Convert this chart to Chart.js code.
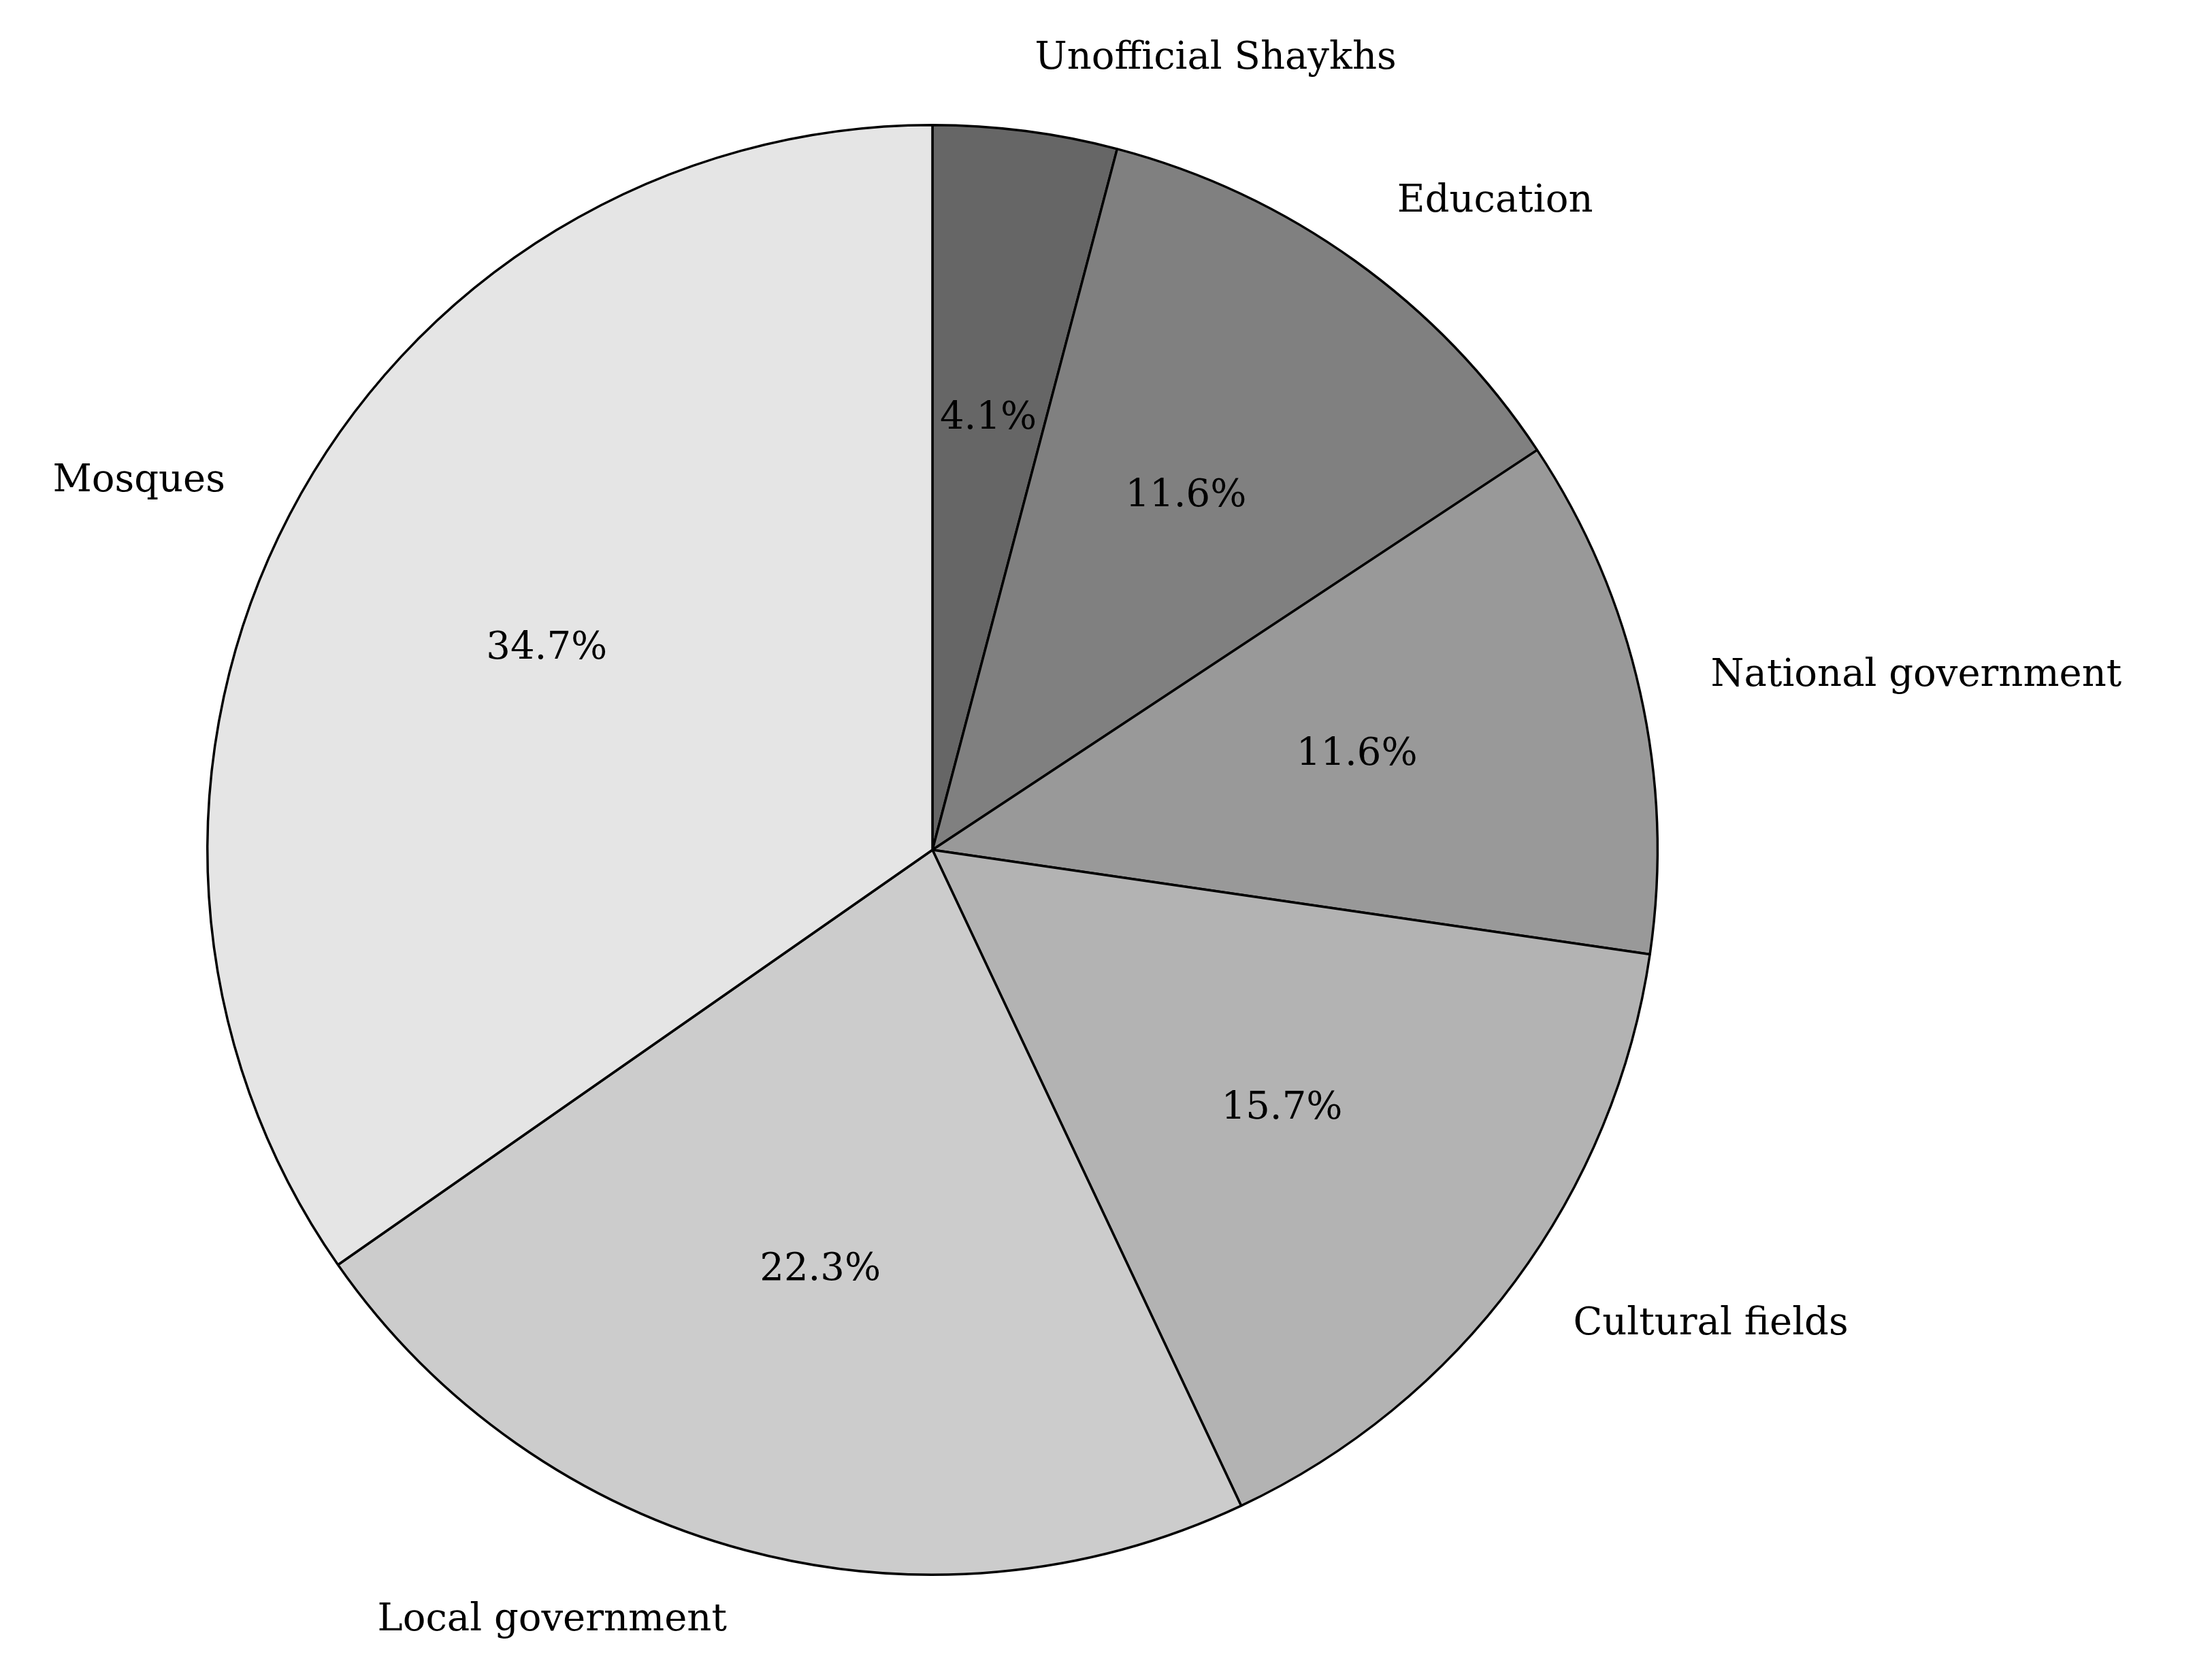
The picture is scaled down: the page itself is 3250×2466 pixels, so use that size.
<!DOCTYPE html>
<html><head><meta charset="utf-8">
<script src="https://cdn.jsdelivr.net/npm/chart.js@4/dist/chart.umd.min.js"></script>
<style>html,body{margin:0;padding:0;background:#fff}#c{display:block}</style>
</head><body>
<div style="width:3250px;height:2466px"><canvas id="c" width="3250" height="2466"></canvas></div>
<script>
const categories = ["Unofficial Shaykhs","Education","National government","Cultural fields","Local government","Mosques"];
const values = [4.1, 11.6, 11.6, 15.7, 22.3, 34.7];
const colors = ["#666666","#808080","#999999","#b3b3b3","#cccccc","#e5e5e5"];

const labelPlugin = {
  id: 'pieLabels',
  afterDatasetsDraw(chart) {
    const ctx = chart.ctx;
    const meta = chart.getDatasetMeta(0);
    const total = values.reduce((a,b)=>a+b,0);
    ctx.save();
    ctx.fillStyle = '#000';
    ctx.font = '56px "DejaVu Serif"';
    ctx.textBaseline = 'middle';
    meta.data.forEach((arc, i) => {
      const mid = (arc.startAngle + arc.endAngle) / 2;
      const r = arc.outerRadius;
      const cx = arc.x, cy = arc.y;
      const px = cx + Math.cos(mid) * r * 0.6, py = cy + Math.sin(mid) * r * 0.6;
      ctx.textAlign = 'center';
      ctx.fillText((values[i] / total * 100).toFixed(1) + '%', px, py);
      const lx = cx + Math.cos(mid) * r * 1.1, ly = cy + Math.sin(mid) * r * 1.1;
      ctx.textAlign = Math.cos(mid) >= 0 ? 'left' : 'right';
      ctx.fillText(categories[i], lx, ly);
    });
    ctx.restore();
  }
};

new Chart(document.getElementById('c'), {
  type: 'pie',
  data: { labels: categories, datasets: [{ data: values, backgroundColor: colors, borderColor: '#000', borderWidth: 3.5 }] },
  options: {
    responsive: false, animation: false,
    layout: { padding: { left: 303, right: 813, top: 182, bottom: 150 } },
    plugins: { legend: { display: false }, tooltip: { enabled: false } }
  },
  plugins: [labelPlugin]
});
</script>
</body></html>
